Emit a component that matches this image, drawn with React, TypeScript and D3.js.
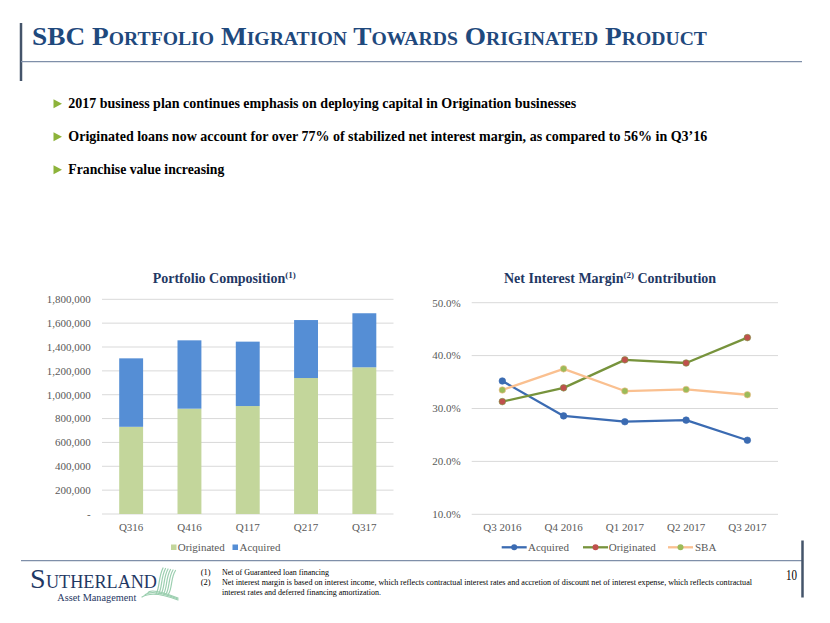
import React from "react";
import * as d3 from "d3";

const quarters = ["Q316", "Q416", "Q117", "Q217", "Q317"];
const originated = [731000, 883000, 905000, 1140000, 1230000];
const acquired = [574000, 573000, 540000, 486000, 453000];
const barTicks = [0, 200000, 400000, 600000, 800000, 1000000, 1200000, 1400000, 1600000, 1800000];

const nimQuarters = ["Q3 2016", "Q4 2016", "Q1 2017", "Q2 2017", "Q3 2017"];
const nimAcquired = [0.352, 0.286, 0.275, 0.278, 0.24];
const nimOriginated = [0.313, 0.339, 0.392, 0.386, 0.434];
const nimSBA = [0.335, 0.375, 0.333, 0.336, 0.326];
const nimTicks = [0.1, 0.2, 0.3, 0.4, 0.5];

const bullets = [
  "2017 business plan continues emphasis on deploying capital in Origination businesses",
  "Originated loans now account for over 77% of stabilized net interest margin, as compared to 56% in Q3\u201916",
  "Franchise value increasing",
];
const bulletWidths = [508, 639, 156];

const SERIF = "'Liberation Serif', 'Times New Roman', serif";
const NAVY = "#1F497D";
const AXIS = "#595959";
const GRID = "#D9D9D9";

const series = [
  { name: "Acquired", values: nimAcquired, line: "#3B6BB2", marker: "#3B6BB2" },
  { name: "Originated", values: nimOriginated, line: "#77933C", marker: "#C0504D" },
  { name: "SBA", values: nimSBA, line: "#FAC090", marker: "#9BBB59" },
];

export default function App() {
  const xb = d3.scaleBand<string>().domain(quarters).range([102, 393.5]).paddingInner(0.59).paddingOuter(0.295);
  const yb = d3.scaleLinear().domain([0, 1800000]).range([514, 299.3]);
  const fmt = d3.format(",");

  const xl = d3.scaleBand<string>().domain(nimQuarters).range([471.7, 778]);
  const yl = d3.scaleLinear().domain([0.1, 0.5]).range([514.3, 302.7]);
  const pct = d3.format(".1%");
  const cx = (i: number) => (xl(nimQuarters[i]) as number) + xl.bandwidth() / 2;
  const lineGen = (vals: number[]) =>
    d3.line<number>().x((_, i) => cx(i)).y((v) => yl(v))(vals) as string;

  const stack = d3.stack<any>().keys(["originated", "acquired"])(
    quarters.map((q, i) => ({ q, originated: originated[i], acquired: acquired[i] }))
  );
  const barColors = ["#C3D69B", "#558ED5"];

  return (
    <svg width={830} height={623} style={{ position: "absolute", left: 0, top: 0, background: "#fff" }} fontFamily={SERIF}>
      {/* header */}
      <line x1={21} y1={23} x2={21} y2={81} stroke="#44546A" strokeWidth={2.5} />
      <line x1={21} y1={61.7} x2={802} y2={61.7} stroke="#7F8FA9" strokeWidth={1.3} />
      <text x={32} y={45} fontSize={25} fontWeight="bold" fill={NAVY} style={{ fontVariant: "small-caps" }} textLength={675} lengthAdjust="spacingAndGlyphs">
        SBC Portfolio Migration Towards Originated Product
      </text>

      {/* bullets */}
      {bullets.map((b, i) => {
        const y = 108.3 + i * 33;
        return (
          <g key={i}>
            <path d={`M53.5,${y - 9} L62,${y - 4.5} L53.5,${y}Z`} fill="#8DB33A" />
            <text x={68.3} y={y} fontSize={14} fontWeight="bold" fill="#000" textLength={bulletWidths[i]} lengthAdjust="spacingAndGlyphs">
              {b}
            </text>
          </g>
        );
      })}

      {/* left chart */}
      <text x={152.7} y={282.7} fontSize={14} fontWeight="bold" fill="#1F3864">
        Portfolio Composition
        <tspan fontSize={9} dy={-5}>(1)</tspan>
      </text>
      {barTicks.map((t) => (
        <g key={t}>
          <line x1={102} x2={393.5} y1={yb(t)} y2={yb(t)} stroke={GRID} strokeWidth={1} />
          <text x={90.7} y={yb(t)} dy="0.35em" textAnchor="end" fontSize={11} fill={AXIS}>
            {t === 0 ? "-" : fmt(t)}
          </text>
        </g>
      ))}
      {stack.map((s, si) =>
        s.map((d, i) => (
          <rect
            key={`${si}-${i}`}
            x={xb(quarters[i])}
            width={xb.bandwidth()}
            y={yb(d[1])}
            height={yb(d[0]) - yb(d[1])}
            fill={barColors[si]}
          />
        ))
      )}
      {quarters.map((q) => (
        <text key={q} x={(xb(q) as number) + xb.bandwidth() / 2} y={530.5} textAnchor="middle" fontSize={11} fill={AXIS}>
          {q}
        </text>
      ))}
      <rect x={171} y={544.5} width={5.5} height={5.5} fill={barColors[0]} />
      <text x={177.7} y={551} fontSize={11} fill={AXIS}>Originated</text>
      <rect x={232.5} y={544.5} width={5.5} height={5.5} fill={barColors[1]} />
      <text x={239.5} y={551} fontSize={11} fill={AXIS}>Acquired</text>

      {/* right chart */}
      <text x={504} y={282.7} fontSize={14} fontWeight="bold" fill="#1F3864">
        Net Interest Margin
        <tspan fontSize={9} dy={-5}>(2)</tspan>
        <tspan dy={5}> Contribution</tspan>
      </text>
      {nimTicks.map((t) => (
        <g key={t}>
          <line x1={471.7} x2={778} y1={yl(t)} y2={yl(t)} stroke={GRID} strokeWidth={1} />
          <text x={460.7} y={yl(t)} dy="0.35em" textAnchor="end" fontSize={11} fill={AXIS}>
            {pct(t)}
          </text>
        </g>
      ))}
      {nimQuarters.map((q, i) => (
        <text key={q} x={cx(i)} y={530.5} textAnchor="middle" fontSize={11} fill={AXIS}>
          {q}
        </text>
      ))}
      {series.map((s) => (
        <g key={s.name}>
          <path d={lineGen(s.values)} fill="none" stroke={s.line} strokeWidth={2.3} strokeLinejoin="round" />
          {s.values.map((v, i) => (
            <circle key={i} cx={cx(i)} cy={yl(v)} r={3.3} fill={s.marker} stroke={s.line} strokeWidth={0.6} />
          ))}
        </g>
      ))}
      {[
        { s: series[0], x: 501.7, tx: 528 },
        { s: series[1], x: 583, tx: 608.7 },
        { s: series[2], x: 668, tx: 695 },
      ].map(({ s, x, tx }) => (
        <g key={s.name}>
          <line x1={x} x2={x + 25} y1={547.3} y2={547.3} stroke={s.line} strokeWidth={2.3} />
          <circle cx={x + 12.5} cy={547.3} r={3} fill={s.marker} />
          <text x={tx} y={551} fontSize={11} fill={AXIS}>{s.name}</text>
        </g>
      ))}

      {/* footer */}
      <line x1={21} y1={560.7} x2={802} y2={560.7} stroke="#7F8FA9" strokeWidth={1.3} />
      <line x1={802.5} y1={540.5} x2={802.5} y2={597.5} stroke="#44546A" strokeWidth={2.5} />
      <text x={797} y={580} textAnchor="end" fontSize={14} fill="#000" textLength={11} lengthAdjust="spacingAndGlyphs">10</text>

      <text x={200.7} y={575} fontSize={8.5} fill="#000">(1)</text>
      <text x={222} y={575} fontSize={8.5} fill="#000" textLength={107} lengthAdjust="spacingAndGlyphs">Net of Guaranteed loan financing</text>
      <text x={200.7} y={585} fontSize={8.5} fill="#000">(2)</text>
      <text x={222} y={585} fontSize={8.5} fill="#000" textLength={530} lengthAdjust="spacingAndGlyphs">
        Net interest margin is based on interest income, which reflects contractual interest rates and accretion of discount net of interest expense, which reflects contractual
      </text>
      <text x={222} y={595} fontSize={8.5} fill="#000" textLength={159} lengthAdjust="spacingAndGlyphs">interest rates and deferred financing amortization.</text>

      {/* logo */}
      <text x={30} y={587.5} fontSize={28} fill="#1F3864">S</text>
      <text x={46} y={587.5} fontSize={19} fill="#1F3864" textLength={111} lengthAdjust="spacingAndGlyphs">UTHERLAND</text>
      <text x={57.3} y={601} fontSize={11} fill="#1F3864" textLength={79} lengthAdjust="spacingAndGlyphs">Asset Management</text>
      <g fill="none" stroke="#9CCFB0" strokeWidth={1.2} strokeLinecap="round">
        {[0, 1, 2, 3, 4, 5].map((k) => (
          <path key={k} d={`M${163 + k * 2.5},${568 + k * 0.5} C${158 + k * 2.5},${578} ${160 + k * 2.5},${588} ${156 + k * 2.5},${594}`} />
        ))}
        {[0, 1, 2].map((k) => (
          <path key={`h${k}`} d={`M${142 + k * 3},${597 - k * 2} C${150},${592 - k * 2} ${165},${595 - k} ${178},${600 - k}`} />
        ))}
      </g>
    </svg>
  );
}
